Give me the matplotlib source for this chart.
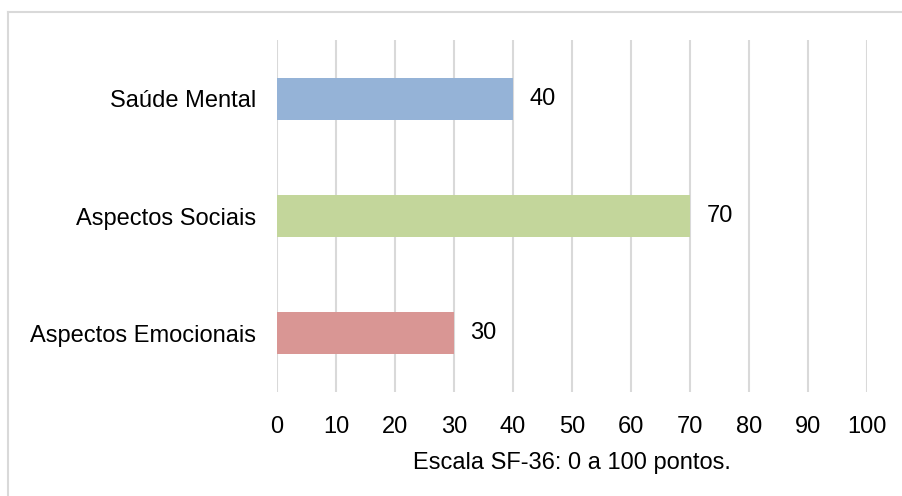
import matplotlib
matplotlib.use("Agg")
import matplotlib.pyplot as plt
from matplotlib.lines import Line2D

plt.rcParams['font.family'] = ['Liberation Sans', 'DejaVu Sans']

categories = ["Aspectos Emocionais", "Aspectos Sociais", "Saúde Mental"]
values = [30, 70, 40]
colors = ["#D99694", "#C3D69B", "#95B3D7"]
x_ticks = [0, 10, 20, 30, 40, 50, 60, 70, 80, 90, 100]

fs = 17

fig = plt.figure(figsize=(9.02, 4.96), dpi=100)
ax = fig.add_axes([277 / 902, 1 - 392 / 496, 590 / 902, 352 / 496])

pos = range(len(categories))
bars = ax.barh(pos, values, height=0.36, color=colors, zorder=3)
for b, v in zip(bars, values):
    ax.text(b.get_width() + 2.8, b.get_y() + b.get_height() / 2, str(v),
            va="center", ha="left", fontsize=fs)

ax.set_xlim(0, 100)
ax.set_ylim(-0.5, len(categories) - 0.5)
ax.set_xticks(x_ticks)
ax.set_yticks(list(pos))
ax.set_yticklabels(categories)
ax.tick_params(axis="both", length=0, labelsize=fs)
ax.tick_params(axis="x", pad=17)
ax.tick_params(axis="y", pad=15)
ax.grid(axis="x", color="#D9D9D9", linewidth=1.5, zorder=0)
for s in ax.spines.values():
    s.set_visible(False)
ax.set_xlabel("Escala SF-36: 0 a 100 pontos.", fontsize=fs, labelpad=10)

# outer chart border (only left and top show in the frame)
fig.add_artist(Line2D([8 / 902, 8 / 902], [0, 1 - 12 / 496], transform=fig.transFigure,
                      color="#D9D9D9", linewidth=1.5))
fig.add_artist(Line2D([8 / 902, 1], [1 - 12 / 496, 1 - 12 / 496], transform=fig.transFigure,
                      color="#D9D9D9", linewidth=1.5))

plt.savefig("out.png", dpi=100)
